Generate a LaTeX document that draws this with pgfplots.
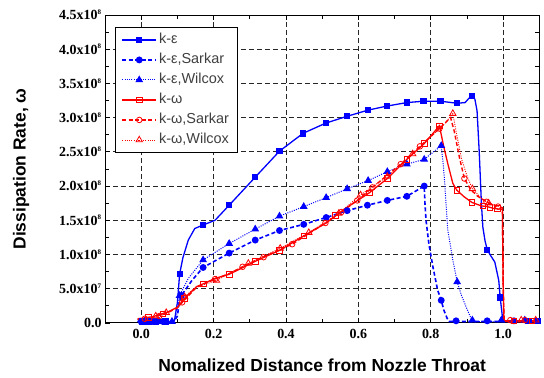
\documentclass[border=0pt]{standalone}
\usepackage{fontspec}
\setmainfont{Liberation Serif}
\setsansfont{Liberation Sans}
\usepackage{pgfplots}
\pgfplotsset{compat=1.18}
\definecolor{kblue}{RGB}{0,0,255}
\definecolor{kred}{RGB}{255,0,0}
\newcommand{\tl}[2]{\textbf{#1x10\textsuperscript{\fontsize{7}{7}\selectfont #2}}}
\pgfplotsset{
  ke/.style={kblue, solid, line width=1.3bp, mark=square*, mark size=2.5bp, mark options={solid}},
  keS/.style={kblue, dash pattern=on 4bp off 2.5bp, line width=1.6bp, mark=*, mark size=2.6bp, mark options={solid}},
  keW/.style={kblue, dash pattern=on 1bp off 1.3bp, line width=1bp, mark=triangle*, mark size=3.5bp, mark options={solid}},
  kw/.style={kred, solid, line width=1.3bp, mark=square, mark size=2.8bp, mark options={solid, fill=white, line width=0.8bp}},
  kwS/.style={kred, dash pattern=on 4bp off 2.5bp, line width=1.4bp, mark=o, mark size=2.8bp, mark options={solid, line width=0.8bp}},
  kwW/.style={kred, dash pattern=on 1bp off 1.3bp, line width=0.9bp, mark=triangle, mark size=3.7bp, mark options={solid, line width=0.8bp}},
}
\begin{document}
\begin{tikzpicture}
\begin{axis}[
  scale only axis, width=434bp, height=307.7bp,
  xmin=-0.1, xmax=1.1, ymin=0, ymax=4.5,
  xtick={0,0.2,0.4,0.6,0.8,1.0},
  xticklabels={\textbf{0.0},\textbf{0.2},\textbf{0.4},\textbf{0.6},\textbf{0.8},\textbf{1.0}},
  minor xtick={0.1,0.3,0.5,0.7,0.9},
  ytick={0,0.5,1,1.5,2,2.5,3,3.5,4,4.5},
  yticklabels={\textbf{0.0},\tl{5.0}{7},\tl{1.0}{8},\tl{1.5}{8},\tl{2.0}{8},\tl{2.5}{8},\tl{3.0}{8},\tl{3.5}{8},\tl{4.0}{8},\tl{4.5}{8}},
  minor ytick={0.25,0.75,1.25,1.75,2.25,2.75,3.25,3.75,4.25},
  xmajorgrids, ymajorgrids,
  major grid style={black!85, line width=0.8bp, dash pattern=on 5bp off 3bp},
  tick align=inside, major tick length=5bp, minor tick length=4bp,
  tick style={black, line width=0.7bp},
  axis line style={line width=1bp},
  xticklabel style={font=\fontsize{14}{14}\selectfont, yshift=-3bp},
  yticklabel style={font=\fontsize{14}{14}\selectfont},
  xlabel={Nomalized Distance from Nozzle Throat},
  ylabel={Dissipation Rate, ω},
  every axis x label/.style={at={(axis description cs:0.5,-0.1375)}, anchor=center, font=\sffamily\bfseries\fontsize{17.5}{17.5}\selectfont},
  every axis y label/.style={at={(axis description cs:-0.1935,0.5)}, rotate=90, anchor=center, font=\sffamily\bfseries\fontsize{17.5}{17.5}\selectfont},
  legend image code/.code={\draw[mark repeat=2,mark phase=2] plot coordinates {(0bp,0bp) (17bp,0bp) (34bp,0bp)};},
  legend cell align=left,
  legend style={at={(axis description cs:0.023,0.961)}, anchor=north west,
    draw=black, line width=0.8bp, inner xsep=6bp, inner ysep=4bp, row sep=3bp,
    font=\sffamily\fontsize{14.5}{14.5}\selectfont, text=black!75,
    nodes={text height=10bp, text depth=3bp, inner sep=2bp}},
]
% k-epsilon
\addplot[ke, no markers, forget plot] coordinates {(-0.01,0.02)(0.02,0.02)(0.05,0.02)(0.08,0.02)(0.092,0.04)(0.1,0.3)(0.106,0.71)(0.115,0.95)(0.13,1.21)(0.148,1.38)(0.171,1.43)(0.204,1.50)(0.243,1.72)(0.315,2.13)(0.382,2.51)(0.447,2.77)(0.51,2.92)(0.569,3.02)(0.627,3.11)(0.68,3.17)(0.734,3.22)(0.78,3.24)(0.827,3.24)(0.873,3.21)(0.895,3.22)(0.905,3.28)(0.914,3.32)(0.922,3.27)(0.928,3.1)(0.934,2.5)(0.94,1.75)(0.944,1.40)(0.95,1.2)(0.956,1.07)(0.966,0.98)(0.977,0.89)(0.988,0.62)(0.992,0.37)(0.998,0.09)(1.003,0.02)(1.05,0.02)(1.1,0.02)};
\addplot[ke, only marks, forget plot] coordinates {(0.003,0.02)(0.02,0.02)(0.04,0.02)(0.067,0.02)(0.108,0.71)(0.171,1.43)(0.243,1.72)(0.315,2.13)(0.382,2.51)(0.447,2.77)(0.51,2.92)(0.569,3.02)(0.627,3.11)(0.68,3.17)(0.734,3.22)(0.78,3.24)(0.827,3.24)(0.873,3.21)(0.914,3.32)(0.956,1.07)(0.992,0.37)(1.03,0.03)(1.07,0.03)(1.095,0.03)};
% k-epsilon Sarkar
\addplot[keS, no markers, forget plot] coordinates {(-0.01,0.02)(0.09,0.02)(0.1,0.1)(0.105,0.3)(0.111,0.40)(0.14,0.62)(0.171,0.81)(0.243,1.02)(0.315,1.21)(0.382,1.35)(0.449,1.44)(0.511,1.54)(0.569,1.64)(0.625,1.72)(0.68,1.79)(0.734,1.85)(0.782,2.0)(0.784,1.75)(0.787,1.5)(0.795,1.15)(0.806,0.82)(0.819,0.48)(0.829,0.33)(0.836,0.19)(0.845,0.07)(0.851,0.02)(1.1,0.02)};
\addplot[keS, only marks, forget plot] coordinates {(0.0,0.02)(0.03,0.02)(0.06,0.02)(0.111,0.40)(0.171,0.81)(0.243,1.02)(0.315,1.21)(0.382,1.35)(0.449,1.44)(0.511,1.54)(0.569,1.64)(0.625,1.72)(0.68,1.79)(0.734,1.85)(0.782,2.0)(0.829,0.33)(0.87,0.03)(0.956,0.03)(1.03,0.03)};
% k-epsilon Wilcox
\addplot[keW, no markers, forget plot] coordinates {(-0.01,0.02)(0.09,0.02)(0.1,0.15)(0.106,0.40)(0.13,0.65)(0.171,0.92)(0.243,1.16)(0.315,1.37)(0.382,1.56)(0.449,1.70)(0.511,1.83)(0.569,1.96)(0.627,2.08)(0.68,2.21)(0.734,2.32)(0.782,2.39)(0.829,2.59)(0.834,2.35)(0.838,2.09)(0.847,1.36)(0.861,0.92)(0.873,0.60)(0.885,0.4)(0.898,0.23)(0.912,0.06)(0.92,0.02)(1.1,0.02)};
\addplot[keW, only marks, forget plot] coordinates {(0.01,0.02)(0.05,0.02)(0.085,0.02)(0.106,0.40)(0.171,0.92)(0.243,1.16)(0.315,1.37)(0.382,1.56)(0.449,1.70)(0.511,1.83)(0.569,1.96)(0.627,2.08)(0.68,2.21)(0.734,2.32)(0.782,2.39)(0.829,2.59)(0.873,0.60)(0.915,0.04)(0.995,0.04)(1.06,0.04)};
% k-omega
\addplot[kw, no markers, forget plot] coordinates {(-0.01,0.06)(0.032,0.09)(0.074,0.16)(0.10,0.23)(0.12,0.36)(0.153,0.53)(0.171,0.57)(0.204,0.65)(0.243,0.71)(0.315,0.90)(0.382,1.06)(0.449,1.27)(0.511,1.46)(0.569,1.69)(0.63,1.90)(0.68,2.11)(0.734,2.39)(0.782,2.62)(0.824,2.88)(0.835,2.6)(0.847,2.33)(0.861,2.04)(0.872,1.94)(0.893,1.84)(0.914,1.76)(0.94,1.71)(0.956,1.70)(0.976,1.67)(0.998,1.66)(1.0,0.6)(1.002,0.03)(1.1,0.03)};
\addplot[kw, only marks, forget plot] coordinates {(0.02,0.08)(0.06,0.13)(0.12,0.36)(0.171,0.57)(0.243,0.71)(0.315,0.90)(0.382,1.06)(0.449,1.27)(0.537,1.57)(0.63,1.90)(0.68,2.11)(0.734,2.39)(0.782,2.62)(0.824,2.88)(0.872,1.94)(0.914,1.76)(0.944,1.71)(0.963,1.69)(0.985,1.67)(1.03,0.03)(1.08,0.03)};
% k-omega Sarkar
\addplot[kwS, no markers, forget plot] coordinates {(-0.01,0.05)(0.03,0.08)(0.07,0.14)(0.10,0.22)(0.12,0.34)(0.153,0.52)(0.204,0.64)(0.243,0.72)(0.315,0.91)(0.417,1.15)(0.509,1.46)(0.553,1.62)(0.597,1.79)(0.639,1.98)(0.717,2.32)(0.77,2.58)(0.824,2.84)(0.855,3.0)(0.865,2.8)(0.88,2.4)(0.893,2.11)(0.91,1.95)(0.93,1.85)(0.954,1.77)(0.986,1.70)(0.998,1.68)(1.0,0.6)(1.003,0.02)(1.1,0.02)};
\addplot[kwS, only marks, forget plot] coordinates {(0.01,0.06)(0.05,0.10)(0.113,0.30)(0.204,0.64)(0.28,0.82)(0.338,0.96)(0.417,1.15)(0.509,1.46)(0.553,1.62)(0.597,1.79)(0.639,1.98)(0.717,2.32)(0.77,2.58)(0.824,2.84)(0.893,2.11)(0.954,1.77)(0.986,1.70)(1.02,0.04)(1.06,0.04)};
% k-omega Wilcox
\addplot[kwW, no markers, forget plot] coordinates {(-0.01,0.05)(0.03,0.09)(0.069,0.15)(0.10,0.22)(0.12,0.38)(0.15,0.52)(0.208,0.62)(0.296,0.87)(0.384,1.09)(0.463,1.32)(0.546,1.60)(0.606,1.87)(0.68,2.14)(0.75,2.47)(0.80,2.72)(0.84,2.92)(0.861,3.06)(0.87,2.8)(0.885,2.4)(0.90,2.15)(0.915,1.96)(0.94,1.82)(0.96,1.75)(0.99,1.70)(0.998,1.69)(1.0,0.6)(1.003,0.03)(1.1,0.03)};
\addplot[kwW, only marks, forget plot] coordinates {(0.04,0.10)(0.069,0.15)(0.12,0.38)(0.208,0.62)(0.296,0.87)(0.384,1.09)(0.463,1.32)(0.546,1.60)(0.606,1.87)(0.68,2.14)(0.75,2.47)(0.861,3.06)(0.915,1.96)(0.96,1.75)(1.05,0.04)(1.09,0.04)};
\addlegendimage{ke}\addlegendentry{k-ε}
\addlegendimage{keS}\addlegendentry{k-ε,Sarkar}
\addlegendimage{keW}\addlegendentry{k-ε,Wilcox}
\addlegendimage{kw}\addlegendentry{k-ω}
\addlegendimage{kwS}\addlegendentry{k-ω,Sarkar}
\addlegendimage{kwW}\addlegendentry{k-ω,Wilcox}
\end{axis}
\path ([shift={(-105bp,-54.3bp)}]current axis.south west) rectangle ([shift={(4.7bp,15bp)}]current axis.north east);
\end{tikzpicture}
\end{document}
